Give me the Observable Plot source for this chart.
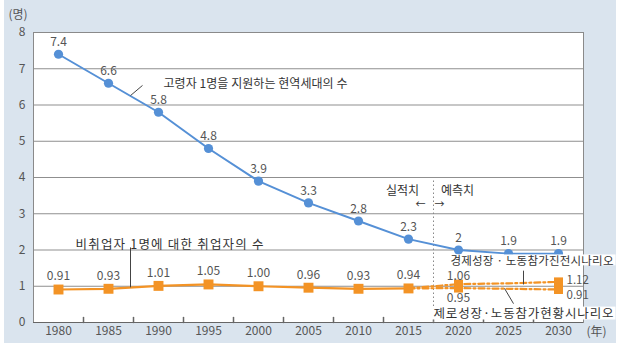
<!DOCTYPE html>
<html><head><meta charset="utf-8">
<script src="https://cdn.jsdelivr.net/npm/d3@7"></script>
<script src="https://cdn.jsdelivr.net/npm/@observablehq/plot@0.6"></script>
<style>
body{margin:0;background:#fff;width:630px;height:354px;overflow:hidden;position:relative;font-family:"Noto Sans CJK KR",sans-serif;}
#panel{position:absolute;left:4px;top:0;width:612px;height:343px;background:#dae4ee;}
#chart{position:absolute;left:0;top:0;}
</style></head><body><div id="panel"></div><div id="chart"></div>
<script>
// ---- data ----
const years = [1980, 1985, 1990, 1995, 2000, 2005, 2010, 2015, 2020, 2025, 2030];
const supportRatio = [7.4, 6.6, 5.8, 4.8, 3.9, 3.3, 2.8, 2.3, 2, 1.9, 1.9];
const employedYears = [1980, 1985, 1990, 1995, 2000, 2005, 2010, 2015];
const employedRatio = [0.91, 0.93, 1.01, 1.05, 1.00, 0.96, 0.93, 0.94];
const scenarioYears = [2015, 2020, 2025, 2030];
const growthScenario = [0.94, 1.06, 1.08, 1.12];
const zeroScenario = [0.94, 0.95, 0.93, 0.91];
const rangeYears = [2020, 2030];
const yTicks = [0, 1, 2, 3, 4, 5, 6, 7, 8];
const forecastDivide = 2017.5;
const yUnit = "(명)";
const xUnit = "(年)";

// ---- annotation layout ----
const annotations = [
  {text: "고령자 1명을 지원하는 현역세대의 수", x: 1990.5, y: 6.57, size: 12, w: 184},
  {text: "비취업자 1명에 대한 취업자의 수", x: 1981.7, y: 2.15, size: 12.5, w: 188}
];
const periodLabels = [
  {text: "실적치", x: 2014.4, y: 3.62, size: 12},
  {text: "예측치", x: 2019.9, y: 3.62, size: 12},
  {text: "←", x: 2016.2, y: 3.24, size: 10},
  {text: "→", x: 2018.1, y: 3.24, size: 10}
];
const scenarioLabels = [
  {text: "경제성장 · 노동참가진전시나리오", x: 2019.2, y: 1.70, size: 11.5, w: 163},
  {text: "제로성장·노동참가현황시나리오", x: 2017.5, y: 0.23, size: 12.5, w: 180}
];
const leaders = [
  {x1: 1988.4, y1: 6.54, x2: 1987.2, y2: 6.26},
  {x1: 1987.2, y1: 2.07, x2: 1987.2, y2: 0.97},
  {x1: 2026.5, y1: 1.43, x2: 2026.5, y2: 1.05},
  {x1: 2024.6, y1: 0.94, x2: 2025.5, y2: 0.52}
];

// ---- derived tables ----
const blue = years.map((y, i) => ({year: y, v: supportRatio[i]}));
const orange = employedYears.map((y, i) => ({year: y, v: employedRatio[i]}));
const growth = scenarioYears.map((y, i) => ({year: y, v: growthScenario[i]}));
const zero = scenarioYears.map((y, i) => ({year: y, v: zeroScenario[i]}));
const ranges = rangeYears.map(y => ({year: y, hi: growthScenario[scenarioYears.indexOf(y)], lo: zeroScenario[scenarioYears.indexOf(y)]}));
const boundaries = years.slice(0, -1).map(y => y + 2.5);

const BLUE = "#5590d6";
const ORANGE = "#f39325";
const FONT = "Noto Sans CJK KR";

const tickShape = {draw(ctx, l) { ctx.moveTo(0, 0); ctx.lineTo(0, -l); }};

const chart = Plot.plot({
  width: 630, height: 354,
  marginLeft: 33, marginRight: 47, marginTop: 32, marginBottom: 32,
  x: {type: "linear", domain: [1977.5, 2032.5]},
  y: {domain: [0, 8]},
  style: {background: "transparent", fontFamily: FONT, fontSize: "12px", color: "#555"},
  marks: [
    Plot.frame({fill: "white", stroke: null}),
    Plot.ruleY(yTicks.slice(1), {stroke: "#8f8f8f", strokeWidth: 1}),
    Plot.frame({stroke: "#8a8a8a", fill: "none"}),
    Plot.ruleY([0], {stroke: "#666", strokeWidth: 1.2}),
    Plot.axisY({ticks: yTicks, tickSize: 0, tickPadding: 8, label: null, fontSize: 12, fill: "#555"}),
    Plot.axisX({ticks: years, tickSize: 0, tickPadding: 4, label: null, tickFormat: d => String(d), fontSize: 12, fill: "#555"}),
    Plot.vector(boundaries, {x: d => d, y: 0, length: 5, anchor: "start", shape: tickShape, stroke: "#666"}),
    Plot.ruleX([forecastDivide], {y1: 0, y2: 3.95, stroke: "#888", strokeDasharray: "1.5,2.5"}),
    // blue series
    Plot.line(blue, {x: "year", y: "v", stroke: BLUE, strokeWidth: 2}),
    Plot.dot(blue, {x: "year", y: "v", r: 4.6, fill: BLUE}),
    Plot.text(blue, {x: "year", y: "v", text: d => String(d.v), dy: -12, fill: "#555", fontSize: 12}),
    // orange scenarios
    Plot.line(growth, {x: "year", y: "v", stroke: ORANGE, strokeWidth: 2.2, strokeDasharray: "6,3,2,3"}),
    Plot.line(zero, {x: "year", y: "v", stroke: ORANGE, strokeWidth: 2.2, strokeDasharray: "6,3,2,3"}),
    Plot.link(ranges, {x1: "year", x2: "year", y1: "lo", y2: "hi", stroke: ORANGE, strokeWidth: 9, strokeLinecap: "square"}),
    // orange actual
    Plot.line(orange, {x: "year", y: "v", stroke: ORANGE, strokeWidth: 2.2}),
    Plot.dot(orange, {x: "year", y: "v", symbol: "square", r: 5.6, fill: ORANGE}),
    Plot.text(orange, {x: "year", y: "v", text: d => d.v.toFixed(2), dy: -13, fill: "#555", fontSize: 12}),
    // range labels
    Plot.text(ranges.filter(d => d.year === 2020), {x: "year", y: "hi", text: d => d.hi.toFixed(2), dy: -8, fill: "#555", fontSize: 12}),
    Plot.text(ranges.filter(d => d.year === 2020), {x: "year", y: "lo", text: d => d.lo.toFixed(2), dy: 10, fill: "#555", fontSize: 12}),
    Plot.text(ranges.filter(d => d.year === 2030), {x: "year", y: "hi", text: d => d.hi.toFixed(2), dx: 8, dy: -2, textAnchor: "start", fill: "#555", fontSize: 11.5}),
    Plot.text(ranges.filter(d => d.year === 2030), {x: "year", y: "lo", text: d => d.lo.toFixed(2), dx: 8, dy: 6, textAnchor: "start", fill: "#555", fontSize: 11.5}),
    // annotations
    Plot.link(leaders, {x1: "x1", y1: "y1", x2: "x2", y2: "y2", stroke: "#444", strokeWidth: 1}),
    Plot.text(annotations, {x: "x", y: "y", text: "text", textAnchor: "start", fill: "#333", fontSize: d => d.size, className: "fitted"}),
    Plot.text(periodLabels, {x: "x", y: "y", text: "text", fill: "#333", fontSize: d => d.size}),
    Plot.text(scenarioLabels, {x: "x", y: "y", text: "text", textAnchor: "start", fill: "#333", fontSize: d => d.size, className: "boxed"}),
    Plot.text([yUnit], {frameAnchor: "top-left", dx: -25, dy: -17, textAnchor: "start", lineAnchor: "middle", fill: "#555", fontSize: 12}),
    Plot.text([xUnit], {frameAnchor: "bottom-right", dx: 13, dy: 10, textAnchor: "middle", lineAnchor: "middle", fill: "#555", fontSize: 12})
  ]
});
document.getElementById("chart").appendChild(chart);

// stretch annotation texts to the reference widths
function fit(selector, list) {
  chart.querySelectorAll(selector + " text").forEach((t, i) => {
    t.setAttribute("textLength", list[i].w);
    t.setAttribute("lengthAdjust", "spacing");
  });
}
fit("g.fitted", annotations);
fit("g.boxed", scenarioLabels);

// white boxes behind scenario labels (tight to glyphs)
chart.querySelectorAll("g.boxed text").forEach(t => {
  const b = t.getBBox();
  const r = document.createElementNS("http://www.w3.org/2000/svg", "rect");
  r.setAttribute("x", b.x - 2); r.setAttribute("y", b.y + b.height * 0.18);
  r.setAttribute("width", b.width + 4); r.setAttribute("height", b.height * 0.68);
  r.setAttribute("fill", "white");
  const tr = t.getAttribute("transform");
  if (tr) r.setAttribute("transform", tr);
  t.parentNode.insertBefore(r, t);
});
</script>
</body></html>
